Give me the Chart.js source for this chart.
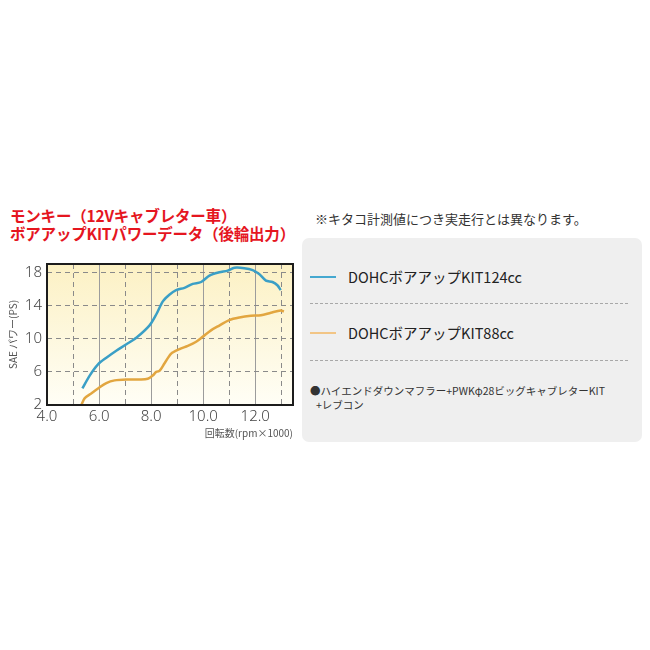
<!DOCTYPE html>
<html lang="ja">
<head>
<meta charset="utf-8">
<script src="https://cdn.jsdelivr.net/npm/chart.js@4.4.1/dist/chart.umd.min.js"></script>
<style>
  html, body { margin: 0; padding: 0; background: #fff; }
  body { width: 650px; height: 650px; position: relative; overflow: hidden;
         font-family: "Noto Sans CJK JP", "Noto Sans", sans-serif; }
  .title { position: absolute; left: 10px; top: 206px; color: #e5161f; font-weight: 700;
           font-size: 15.5px; line-height: 18px; white-space: nowrap; letter-spacing: -0.2px; }
  .note { position: absolute; left: 315px; top: 209px; font-size: 13px; color: #333; white-space: nowrap; }
  .box { position: absolute; left: 302px; top: 238px; width: 340px; height: 204px;
         background: #efefef; border-radius: 7px; }
  .leg { position: absolute; left: 8px; height: 20px; font-size: 14.5px; color: #222; white-space: nowrap; }
  .leg .sw { position: absolute; left: 0; top: 9px; width: 26px; height: 2px; }
  .leg .tx { position: absolute; left: 38px; top: 0; line-height: 20px; }
  .sep { position: absolute; left: 8px; width: 318px; height: 0; border-top: 1px dashed #a8a8a8; }
  .spec { position: absolute; left: 8px; top: 146px; font-size: 10.5px; line-height: 14px; color: #333; white-space: nowrap; }
  #wrap { position: absolute; left: 0; top: 250px; width: 300px; height: 190px; }
</style>
</head>
<body>
<div class="title">モンキー（12Vキャブレター車）<br>ボアアップKITパワーデータ（後輪出力）</div>
<div class="note">※キタコ計測値につき実走行とは異なります。</div>
<div class="box" id="box"></div>
<div id="wrap"><canvas id="c" width="300" height="190"></canvas></div>
<script>
// rpm (x1000) / power (PS)
const rpm124 = [5.36, 5.64, 5.96, 6.28, 6.66, 7.05, 7.43, 7.94, 8.2, 8.45, 8.7, 8.96, 9.28, 9.6, 9.92, 10.24, 10.62, 10.94, 11.2, 11.58, 11.9, 12.15, 12.41, 12.66, 12.85, 12.98];
const ps124  = [4.0, 5.55, 6.9, 7.7, 8.55, 9.32, 10.1, 11.6, 12.94, 14.5, 15.3, 15.85, 16.13, 16.6, 16.83, 17.6, 18.0, 18.2, 18.55, 18.5, 18.27, 17.8, 17.0, 16.83, 16.44, 15.85];
const rpm88 = [5.32, 5.45, 5.7, 5.96, 6.28, 6.6, 7.05, 7.56, 7.87, 8.06, 8.2, 8.32, 8.51, 8.77, 9.09, 9.41, 9.73, 9.98, 10.3, 10.62, 11.0, 11.39, 11.83, 12.22, 12.6, 12.98, 13.1];
const ps88  = [2.0, 2.83, 3.4, 4.0, 4.65, 4.97, 5.08, 5.08, 5.16, 5.55, 6.0, 6.1, 7.0, 8.2, 8.74, 9.13, 9.63, 10.22, 11.0, 11.58, 12.24, 12.55, 12.75, 12.82, 13.13, 13.4, 13.25];

const seriesNames = ["DOHCボアアップKIT124cc", "DOHCボアアップKIT88cc"];
const seriesColors = ["#3a9fc6", "#e2a640"];
const legendColors = ["#45a8d0", "#f2c585"];
const specLines = ["●ハイエンドダウンマフラー+PWKφ28ビッグキャブレターKIT", "+レブコン"];

const xLabels = [4, 6, 8, 10, 12];
const yLabels = [2, 6, 10, 14, 18];

// legend box
const box = document.getElementById("box");
seriesNames.forEach((name, i) => {
  const row = document.createElement("div");
  row.className = "leg";
  row.style.top = (29 + i * 56) + "px";
  row.innerHTML = `<span class="sw" style="background:${legendColors[i]}"></span><span class="tx">${name}</span>`;
  box.appendChild(row);
  const sep = document.createElement("div");
  sep.className = "sep";
  sep.style.top = (65 + i * 57) + "px";
  box.appendChild(sep);
});
const spec = document.createElement("div");
spec.className = "spec";
spec.innerHTML = specLines.map((t, i) => `<div style="padding-left:${i ? 6 : 0}px">${t}</div>`).join("");
box.appendChild(spec);

function pts(xs, ys) {
  return xs.map((x, i) => ({ x, y: ys[i] }));
}

const plotBg = {
  id: "plotBg",
  beforeDraw(chart) {
    const { ctx, chartArea: a } = chart;
    const g = ctx.createLinearGradient(0, a.top, 0, a.bottom);
    g.addColorStop(0, "#fcf1c4");
    g.addColorStop(1, "#fffef6");
    ctx.save();
    ctx.fillStyle = g;
    ctx.fillRect(a.left, a.top, a.right - a.left, a.bottom - a.top);
    ctx.restore();
  },
  afterDraw(chart) {
    const { ctx, chartArea: a } = chart;
    ctx.save();
    ctx.strokeStyle = "#1c1c1c";
    ctx.lineWidth = 2;
    ctx.strokeRect(a.left, a.top, a.right - a.left, a.bottom - a.top);
    ctx.restore();
  }
};

const tickFont = { family: "'Noto Sans', sans-serif", size: 15, weight: 300 };

new Chart(document.getElementById("c"), {
  type: "line",
  data: {
    datasets: [
      { label: seriesNames[0], data: pts(rpm124, ps124), borderColor: seriesColors[0], borderWidth: 2.5, pointRadius: 0, tension: 0.3 },
      { label: seriesNames[1], data: pts(rpm88, ps88), borderColor: seriesColors[1], borderWidth: 2.5, pointRadius: 0, tension: 0.3 },
    ]
  },
  options: {
    responsive: false,
    animation: false,
    layout: { padding: { top: 9, right: 7, left: 0, bottom: 0 } },
    plugins: { legend: { display: false }, tooltip: { enabled: false } },
    scales: {
      x: {
        type: "linear", min: 4, max: 13.45,
        afterFit: (s) => { s.height = 35; },
        ticks: {
          stepSize: 1, autoSkip: false, includeBounds: false, maxRotation: 0, padding: 3,
          color: "#444", font: tickFont,
          callback: (v) => xLabels.includes(v) ? v.toFixed(1) : ""
        },
        grid: {
          drawTicks: false, lineWidth: 1,
          color: (c) => {
            const v = c.tick ? c.tick.value : 0;
            if (!Number.isInteger(v) || v === 4) return "rgba(0,0,0,0)";
            return v % 2 === 0 ? "#9c9c9c" : "#8a8a8a";
          }
        },
        border: { display: false, dash: (c) => (c.tick && c.tick.value % 2 === 0) ? [] : [5, 4] },
        title: {
          display: true, text: "回転数(rpm×1000)", align: "end",
          color: "#555", font: { family: "'Noto Sans CJK JP', sans-serif", size: 10 },
          padding: { top: 0, bottom: 1 }
        }
      },
      y: {
        min: 2, max: 19,
        afterFit: (s) => { s.width = 47; },
        ticks: {
          stepSize: 2, includeBounds: false, padding: 5, color: "#444", font: tickFont,
          callback: (v) => yLabels.includes(v) ? String(v) : ""
        },
        grid: {
          drawTicks: false, lineWidth: 1,
          color: (c) => {
            const v = c.tick ? c.tick.value : 0;
            return (v % 2 === 0 && v > 2) ? "#8a8a8a" : "rgba(0,0,0,0)";
          }
        },
        border: { display: false, dash: [5, 4] },
        title: {
          display: true, text: "SAE パワー(PS)",
          color: "#555", font: { family: "'Noto Sans CJK JP', sans-serif", size: 10 },
          padding: { top: 7, bottom: 0 }
        }
      }
    }
  },
  plugins: [plotBg]
});
</script>
</body>
</html>
